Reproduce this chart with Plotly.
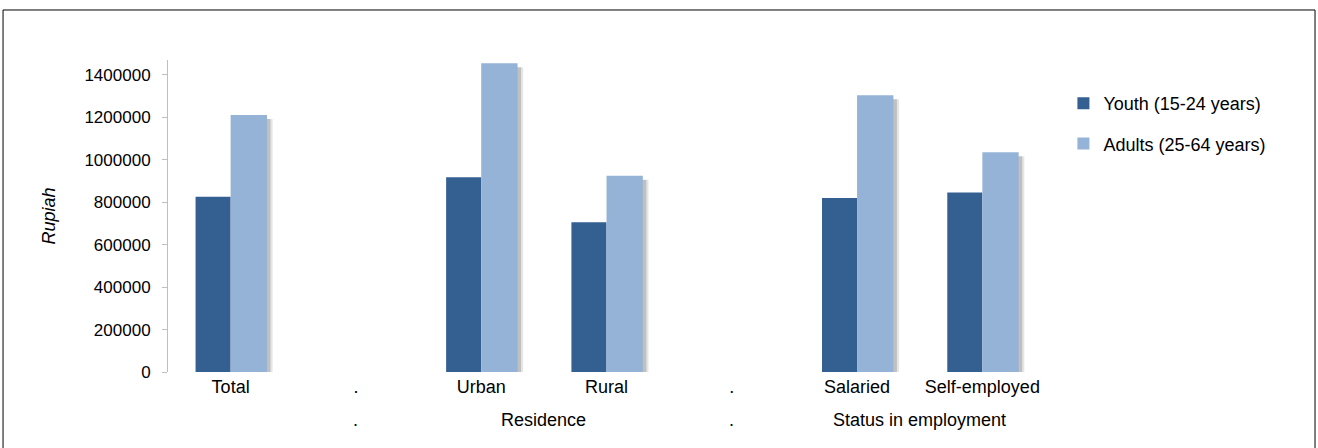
import plotly.graph_objects as go

# Categories on the first axis row ("." marks the empty separators)
categories = ["Total", ".", "Urban", "Rural", ".", "Salaried", "Self-employed"]
# Second axis row: group label and the category index it is centred on
group_labels = [".", "Residence", ".", "Status in employment"]
group_positions = [1, 2.5, 4, 5.5]

youth = [826000, None, 918000, 705000, None, 820000, 846000]
adults = [1211000, None, 1455000, 925000, None, 1304000, 1035000]

y_ticks = [0, 200000, 400000, 600000, 800000, 1000000, 1200000, 1400000]

x_pos = list(range(len(categories)))

FONT = "Liberation Sans"
YOUTH_COLOR = "#345F91"
ADULT_COLOR = "#95B3D7"

fig = go.Figure()

# soft drop shadow behind the adult bars (two layers for a faded edge)
for off, alpha in [(0.045, 0.10), (0.028, 0.16)]:
    fig.add_trace(go.Bar(
        x=x_pos, y=adults, base=-19000, offset=off, width=0.29,
        marker=dict(color=f"rgba(0,0,0,{alpha})", line=dict(width=0)),
        showlegend=False, hoverinfo="skip",
    ))
fig.add_trace(go.Bar(
    x=x_pos, y=youth, offset=-0.28, width=0.28,
    name="Youth (15-24 years)", legendgroup="a",
    marker=dict(color=YOUTH_COLOR, line=dict(width=0)),
))
fig.add_trace(go.Bar(
    x=x_pos, y=adults, offset=0.0, width=0.29,
    name="Adults (25-64 years)", legendgroup="b",
    marker=dict(color=ADULT_COLOR, line=dict(width=0)),
))

annotations = [
    dict(x=p, y=-0.155, xref="x", yref="paper", text=t, showarrow=False,
         font=dict(family=FONT, size=18, color="#000"), yanchor="middle")
    for t, p in zip(group_labels, group_positions)
]

fig.update_layout(
    width=1318, height=448,
    margin=dict(l=168, r=273, t=60, b=76),
    paper_bgcolor="white", plot_bgcolor="white",
    barmode="overlay",
    font=dict(family=FONT, size=17, color="#000"),
    xaxis=dict(
        range=[-0.5, 6.5], tickmode="array", tickvals=x_pos, ticktext=categories,
        showgrid=False, zeroline=False, showline=False, ticks="",
        tickfont=dict(size=18), ticklabelstandoff=2,
    ),
    yaxis=dict(
        range=[0, 1470000], tickmode="array", tickvals=y_ticks,
        ticktext=[str(v) for v in y_ticks],
        showgrid=False, zeroline=False, showline=True, linecolor="#BFBFBF", linewidth=1,
        ticks="outside", ticklen=5, tickcolor="#BFBFBF", tickfont=dict(size=17),
        ticklabelstandoff=8,
        title=dict(text="<i>Rupiah</i>", font=dict(size=18), standoff=24),
    ),
    legend=dict(
        x=1.021, y=0.92, xanchor="left", yanchor="top",
        font=dict(size=18), tracegroupgap=14, traceorder="grouped",
        bgcolor="rgba(0,0,0,0)",
    ),
    annotations=annotations,
    shapes=[dict(
        type="rect", xref="paper", yref="paper",
        x0=-0.1881, x1=1.3079, y0=-0.26, y1=1.1603,
        line=dict(color="#000", width=1), fillcolor="rgba(0,0,0,0)", layer="below",
    )],
)

fig.write_html("out.html")
